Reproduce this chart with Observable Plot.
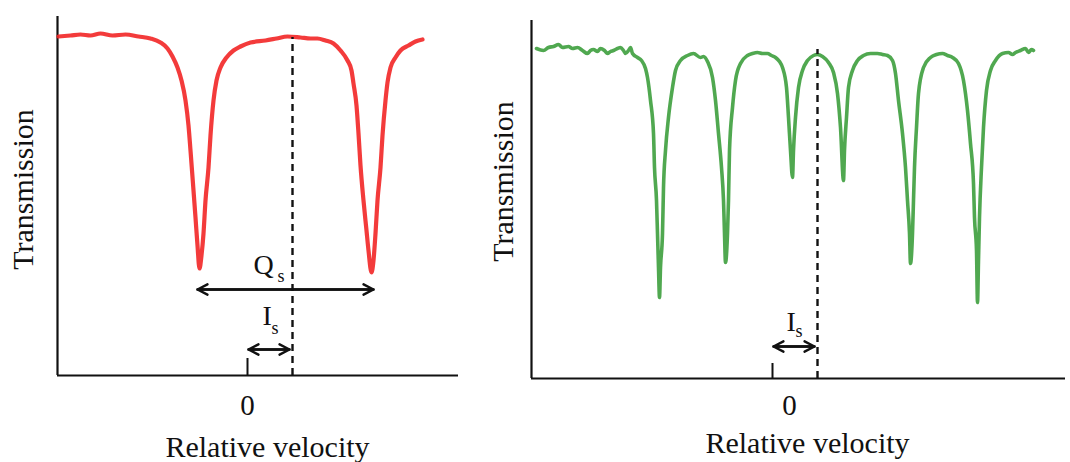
<!DOCTYPE html>
<html><head><meta charset="utf-8">
<script src="https://cdn.jsdelivr.net/npm/d3@7"></script>
<script src="https://cdn.jsdelivr.net/npm/@observablehq/plot@0.6"></script>
<style>
body{margin:0;background:#fff;}
#wrap{position:relative;width:1070px;height:462px;overflow:hidden;background:#fff}
#left,#right{position:absolute;top:0}
#left{left:0}
#right{left:480px}
svg text{font-family:"Liberation Serif","Times New Roman",serif}
</style></head><body><div id="wrap"><div id="left"></div><div id="right"></div></div>
<script>
// ---------- data ----------
const yLabel = "Transmission";
const xLabel = "Relative velocity";
const zeroTick = "0";

// Left panel: quadrupole doublet (red)
const leftVelocity = [-4.725,-4.425,-4.175,-3.925,-3.675,-3.375,-3.05,-2.725,-2.425,-2.175,-2.0,-1.875,-1.75,-1.65,-1.55,-1.475,-1.425,-1.35,-1.3,-1.25,-1.2,-1.15,-1.1,-1.05,-0.975,-0.925,-0.85,-0.775,-0.675,-0.525,-0.35,-0.175,0.075,0.45,0.725,1.0,1.325,1.575,1.75,1.95,2.15,2.325,2.5,2.6,2.65,2.725,2.775,2.825,2.9,2.975,3.025,3.1,3.15,3.2,3.25,3.325,3.375,3.45,3.5,3.575,3.7,3.825,4.025,4.2,4.375];
const leftTransmission = [98.0,98.1,98.2,98.1,98.3,98.1,98.2,98.0,97.8,97.4,96.8,96.0,94.9,93.6,91.6,89.1,86.6,82.6,79.9,77.1,74.8,76.1,78.3,81.6,84.9,88.1,91.6,93.6,94.9,95.9,96.6,97.0,97.4,97.6,97.8,98.0,97.9,97.8,97.8,97.6,97.3,96.6,95.6,94.6,93.3,91.1,88.3,85.1,81.6,78.6,76.6,74.4,75.6,78.3,81.6,84.9,88.1,91.6,93.4,94.9,95.9,96.6,97.1,97.5,97.7];
const leftIsomerShift = 1.125;
const leftQsFrom = -1.25, leftQsTo = 3.15;

// Right panel: magnetic sextet (green)
const rightVelocity = [-5.9,-5.725,-5.6,-5.475,-5.35,-5.25,-5.1,-5.0,-4.875,-4.75,-4.625,-4.55,-4.475,-4.375,-4.3,-4.2,-4.125,-4.05,-3.975,-3.875,-3.8,-3.725,-3.675,-3.6,-3.55,-3.5,-3.375,-3.275,-3.175,-3.125,-3.05,-2.975,-2.95,-2.9,-2.875,-2.85,-2.825,-2.8,-2.75,-2.725,-2.675,-2.6,-2.5,-2.425,-2.3,-2.125,-1.975,-1.8,-1.725,-1.625,-1.5,-1.425,-1.35,-1.275,-1.225,-1.2,-1.175,-1.125,-1.1,-1.075,-1.0,-0.925,-0.8,-0.625,-0.5,-0.375,-0.25,-0.125,-0.025,0.075,0.175,0.25,0.35,0.4,0.45,0.5,0.525,0.575,0.65,0.75,0.875,1.025,1.125,1.25,1.4,1.525,1.625,1.7,1.775,1.8,1.85,1.9,2.0,2.125,2.275,2.45,2.625,2.75,2.875,3.0,3.075,3.15,3.25,3.325,3.375,3.425,3.45,3.5,3.525,3.55,3.6,3.65,3.775,3.95,4.1,4.25,4.375,4.5,4.65,4.775,4.875,4.95,5.025,5.05,5.1,5.125,5.15,5.175,5.225,5.275,5.35,5.45,5.575,5.75,5.9,6.0,6.075,6.2,6.325,6.4,6.475,6.525];
const rightTransmission = [97.2,97.0,97.3,97.4,97.6,97.3,97.4,97.2,97.3,97.0,96.7,97.0,97.1,96.9,97.2,97.0,96.7,96.9,97.0,97.2,97.3,97.0,96.7,97.0,97.3,96.7,96.3,96.0,95.2,94.3,92.0,88.7,85.3,82.0,78.7,75.3,72.3,75.3,78.7,83.3,87.0,90.3,93.3,95.0,96.0,96.5,96.7,96.3,96.4,95.9,94.3,92.0,88.7,85.3,82.0,78.7,75.8,78.7,82.0,87.0,91.3,94.0,95.7,96.5,96.7,96.8,96.7,96.7,96.5,96.3,95.9,95.3,93.3,90.3,87.0,84.3,87.0,90.3,93.3,95.0,96.0,96.5,96.6,96.4,95.8,94.8,92.7,89.3,84.0,87.0,90.3,93.3,95.0,96.0,96.5,96.7,96.7,96.6,96.5,96.0,94.7,92.0,88.7,85.3,82.0,78.7,75.7,78.7,82.0,85.3,89.3,92.7,95.3,96.3,96.6,96.7,96.5,96.3,95.7,94.0,91.0,87.7,83.7,80.3,77.0,71.8,76.0,80.3,85.3,89.3,93.0,95.0,96.0,96.7,96.8,96.6,96.8,97.0,97.2,96.8,97.1,97.0];
const rightIsomerShift = 1.125;

// ---------- helpers ----------
const FONT = "Liberation Serif";
const INK = "#111";

function panel(opts) {
  const {vel, tr, color, lw, xDomain, yDomain, width, height, mt, mb, ml, mr,
         isoShift, isoTop, tickTop, isY, isLabel, qs, zeroDx, zeroY, xLabelX, xLabelY, yLabelX, yLabelY} = opts;
  const curve = vel.map((v, i) => ({v, t: tr[i]}));
  const [x0] = xDomain, [y0] = yDomain;
  const txt = {fill: INK, fontFamily: FONT, lineAnchor: "middle"};
  const arr = {stroke: INK, strokeWidth: 2.4, headAngle: 55, headLength: 7};
  const marks = [
    Plot.ruleX([x0], {stroke: INK, strokeWidth: 2.2}),
    Plot.ruleY([y0], {stroke: INK, strokeWidth: 2.2}),
    Plot.line(curve, {x: "v", y: "t", stroke: color, strokeWidth: lw, curve: "monotone-x", strokeLinejoin: "round", strokeOpacity: 0.9}),
    Plot.ruleX([isoShift], {y1: y0, y2: isoTop, stroke: INK, strokeWidth: 2.4, strokeDasharray: "7,5"}),
    Plot.ruleX([0], {y1: y0, y2: tickTop, stroke: INK, strokeWidth: 2}),
    // Is double arrow
    Plot.arrow([{a: 0.025, b: isoShift - 0.075}], {x1: "a", x2: "b", y1: isY, y2: isY, ...arr}),
    Plot.arrow([{a: isoShift - 0.075, b: 0.025}], {x1: "a", x2: "b", y1: isY, y2: isY, ...arr}),
    Plot.text(["I"], {x: isLabel.x, y: isLabel.y, text: d => d, fontSize: 28, textAnchor: "start", ...txt}),
    Plot.text(["s"], {x: isLabel.sx, y: isLabel.sy, text: d => d, fontSize: 18, textAnchor: "start", ...txt}),
    Plot.text([zeroTick], {x: 0, y: zeroY, dx: zeroDx, text: d => d, fontSize: 29, textAnchor: "middle", ...txt}),
    Plot.text([xLabel], {x: xLabelX, y: xLabelY, text: d => d, fontSize: 30, textAnchor: "middle", ...txt}),
    Plot.text([yLabel], {x: yLabelX, y: yLabelY, text: d => d, fontSize: 30, rotate: -90, textAnchor: "middle", ...txt})
  ];
  if (qs) {
    marks.push(
      Plot.arrow([{a: qs.from, b: qs.to}], {x1: "a", x2: "b", y1: qs.y, y2: qs.y, ...arr}),
      Plot.arrow([{a: qs.to, b: qs.from}], {x1: "a", x2: "b", y1: qs.y, y2: qs.y, ...arr}),
      Plot.text(["Q"], {x: qs.lx, y: qs.ly, text: d => d, fontSize: 28, textAnchor: "start", ...txt}),
      Plot.text(["s"], {x: qs.sx, y: qs.sy, text: d => d, fontSize: 18, textAnchor: "start", ...txt})
    );
  }
  return Plot.plot({
    width, height,
    marginTop: mt, marginBottom: mb, marginLeft: ml, marginRight: mr,
    x: {domain: xDomain, axis: null},
    y: {domain: yDomain, axis: null},
    style: {fontFamily: FONT, background: "transparent", overflow: "visible"},
    marks
  });
}

// Left: frame 57..458 px, 16..375 px
document.getElementById("left").append(panel({
  vel: leftVelocity, tr: leftTransmission, color: "#f22626", lw: 4.2,
  xDomain: [-4.75, 5.275], yDomain: [64.1, 100],
  width: 480, height: 462, mt: 16, mb: 87, ml: 57, mr: 22,
  isoShift: leftIsomerShift, isoTop: 97.9, tickTop: 65.8, isY: 66.7,
  isLabel: {x: 0.375, y: 70.0, sx: 0.6, sy: 68.8},
  qs: {from: leftQsFrom, to: leftQsTo, y: 72.7, lx: 0.15, ly: 75.1, sx: 0.75, sy: 74.0},
  zeroDx: 0, zeroY: 61.1,
  xLabelX: 0.5, xLabelY: 56.9,
  yLabelX: -5.6, yLabelY: 82.7
}));

// Right: frame 531..1065 px, 20..378 px (page coords)
document.getElementById("right").append(panel({
  vel: rightVelocity, tr: rightTransmission, color: "#3d9e3d", lw: 3.6,
  xDomain: [-6.025, 7.325], yDomain: [64.2, 100],
  width: 590, height: 462, mt: 20, mb: 84, ml: 51, mr: 5,
  isoShift: rightIsomerShift, isoTop: 97.1, tickTop: 65.7, isY: 67.4,
  isLabel: {x: 0.35, y: 69.8, sx: 0.575, sy: 68.9},
  qs: null,
  zeroDx: 17, zeroY: 61.5,
  xLabelX: 0.875, xLabelY: 57.7,
  yLabelX: -6.725, yLabelY: 83.9
}));
</script></body></html>
